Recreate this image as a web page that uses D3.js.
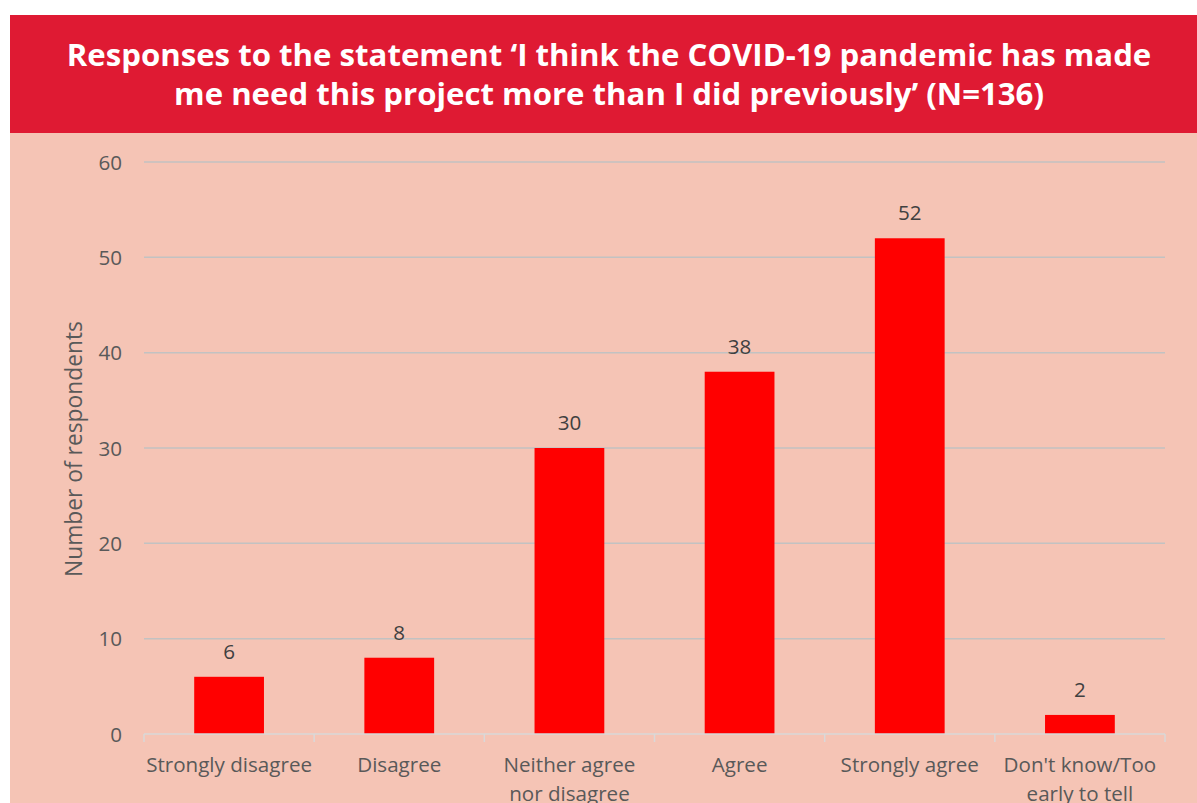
<!DOCTYPE html>
<html>
<head>
<meta charset="utf-8">
<script src="https://cdn.jsdelivr.net/npm/d3@7"></script>
<style>
html, body { margin: 0; padding: 0; background: #ffffff; }
svg { display: block; }
</style>
</head>
<body>
<script>
const titleLines = [
  "Responses to the statement \u2018I think the COVID-19 pandemic has made",
  "me need this project more than I did previously\u2019 (N=136)"
];
const categories = [
  ["Strongly disagree"],
  ["Disagree"],
  ["Neither agree", "nor disagree"],
  ["Agree"],
  ["Strongly agree"],
  ["Don't know/Too", "early to tell"]
];
const values = [6, 8, 30, 38, 52, 2];
const yTicks = [0, 10, 20, 30, 40, 50, 60];
const yLabel = "Number of respondents";

const W = 1197, H = 803;
const svg = d3.select("body").append("svg").attr("width", W).attr("height", H);

svg.append("rect").attr("x", 10).attr("y", 15).attr("width", W - 10).attr("height", 118).attr("fill", "#DF1A33");
svg.append("rect").attr("x", 10).attr("y", 133).attr("width", W - 10).attr("height", H - 133).attr("fill", "#F5C4B5");

const font = "'Open Sans', 'Noto Sans', sans-serif";

function fitSize(text, weight, target) {
  const t = svg.append("text").attr("font-family", font).attr("font-weight", weight)
    .attr("font-size", 20).text(text);
  const w = t.node().getComputedTextLength();
  t.remove();
  return 20 * target / w;
}

// title
const tfs = Math.min(fitSize(titleLines[0], "bold", 1085), fitSize(titleLines[1], "bold", 877));
const titleY = [66, 105];
titleLines.forEach((t, i) => {
  svg.append("text")
    .attr("x", 609).attr("y", titleY[i])
    .attr("text-anchor", "middle")
    .attr("fill", "#ffffff")
    .attr("font-family", font)
    .attr("font-weight", "bold")
    .attr("font-size", tfs)
    .text(t);
});

const lfs = fitSize("Strongly disagree", "normal", 166);

const x = d3.scaleBand().domain(d3.range(categories.length)).range([144, 1165]).paddingInner(0.59).paddingOuter(0.295);
const xb = d3.scaleBand().domain(d3.range(categories.length)).range([144, 1165]);
const y = d3.scaleLinear().domain([0, 60]).range([734, 162]);

svg.append("g").selectAll("line").data(yTicks.filter(d => d > 0)).join("line")
  .attr("x1", 144).attr("x2", 1165)
  .attr("y1", d => y(d)).attr("y2", d => y(d))
  .attr("stroke", "#C2C2C2").attr("stroke-width", 1.5);

const yAxis = d3.axisLeft(y).tickValues(yTicks).tickSize(0).tickPadding(0);
const yg = svg.append("g").attr("transform", "translate(122,0)").call(yAxis);
yg.select(".domain").remove();
yg.selectAll("text").attr("font-family", font).attr("font-size", lfs).attr("fill", "#595959").attr("dy", "0.35em").attr("x", 0);

svg.append("g").selectAll("rect").data(values).join("rect")
  .attr("x", (d, i) => x(i)).attr("width", x.bandwidth())
  .attr("y", d => y(d)).attr("height", d => y(0) - y(d))
  .attr("fill", "#FF0000");

svg.append("g").selectAll("text").data(values).join("text")
  .attr("x", (d, i) => x(i) + x.bandwidth() / 2)
  .attr("y", d => y(d) - 18)
  .attr("text-anchor", "middle")
  .attr("font-family", font).attr("font-size", lfs).attr("fill", "#404040")
  .text(d => d);

const xAxisG = svg.append("g");
xAxisG.append("line").attr("x1", 144).attr("x2", 1165).attr("y1", 734).attr("y2", 734)
  .attr("stroke", "#D9D9D9").attr("stroke-width", 1.5);
xAxisG.selectAll("line.tk").data(d3.range(categories.length + 1)).join("line").attr("class", "tk")
  .attr("x1", i => i < categories.length ? xb(i) : xb.range()[1])
  .attr("x2", i => i < categories.length ? xb(i) : xb.range()[1])
  .attr("y1", 734).attr("y2", 742)
  .attr("stroke", "#D9D9D9").attr("stroke-width", 1.5);

const catG = svg.append("g");
categories.forEach((lines, i) => {
  const t = catG.append("text")
    .attr("text-anchor", "middle")
    .attr("font-family", font).attr("font-size", lfs).attr("fill", "#595959");
  lines.forEach((l, j) => {
    t.append("tspan").attr("x", xb(i) + xb.bandwidth() / 2).attr("y", 772 + j * 29).text(l);
  });
});

const afs = fitSize(yLabel, "normal", 256);
svg.append("text")
  .attr("transform", "translate(82,449) rotate(-90)")
  .attr("text-anchor", "middle")
  .attr("font-family", font).attr("font-size", afs).attr("fill", "#595959")
  .text(yLabel);
</script>
</body>
</html>
